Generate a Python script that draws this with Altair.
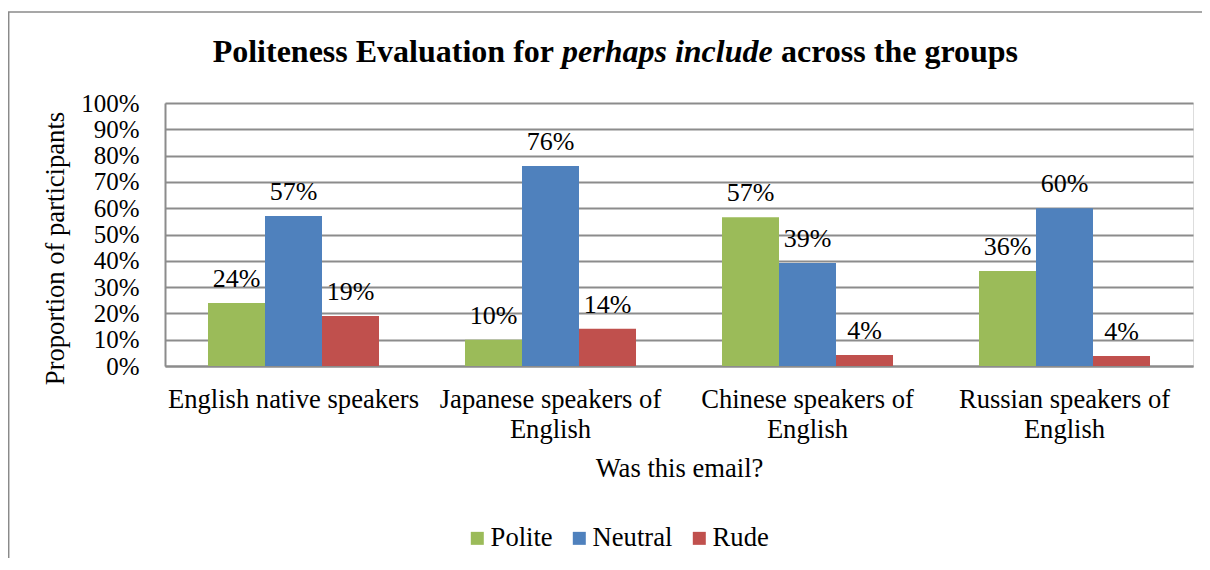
import altair as alt
import pandas as pd

groups = ["English native speakers", "Japanese speakers of English",
          "Chinese speakers of English", "Russian speakers of English"]
series = ["Polite", "Neutral", "Rude"]
polite = [0.24, 0.10, 0.566, 0.361]
neutral = [0.57, 0.76, 0.392, 0.60]
rude = [0.19, 0.142, 0.042, 0.038]
colors = ["#9BBB59", "#4F81BD", "#C0504D"]
y_ticks = [0, 0.1, 0.2, 0.3, 0.4, 0.5, 0.6, 0.7, 0.8, 0.9, 1.0]
title_parts = ["Politeness Evaluation for", "perhaps include", "across the groups"]

rows = []
for s, vals in zip(series, [polite, neutral, rude]):
    for g, v in zip(groups, vals):
        rows.append({"group": g, "series": s, "value": v})
df = pd.DataFrame(rows)

FONT = "Liberation Serif"
W, H = 1028, 263
GRAY = "#8c8c8c"

x_enc = alt.X("group:N", sort=groups,
              scale=alt.Scale(paddingInner=0.3346, paddingOuter=0.1673),
              axis=alt.Axis(title="Was this email?", labelAngle=0,
                            labelExpr="indexof(datum.value, ' of English') > 0 ? [replace(datum.value, ' English', ''), 'English'] : datum.value",
                            labelFontSize=26.6, labelLineHeight=30, labelPadding=20,
                            labelBaseline="top", ticks=False, tickSize=0, labelLimit=0,
                            labelFont=FONT, labelColor="black",
                            titleFont=FONT, titleFontSize=26.6, titleFontWeight="normal",
                            titleColor="black", titleY=110, titleBaseline="alphabetic",
                            domainColor=GRAY, domainWidth=2, grid=False))
xo_enc = alt.XOffset("series:N", sort=series,
                     scale=alt.Scale(paddingInner=0, paddingOuter=0))
y_enc = alt.Y("value:Q", scale=alt.Scale(domain=[0, 1]),
              axis=alt.Axis(title="Proportion of participants", values=y_ticks,
                            format=".0%", labelFontSize=25, labelFont=FONT,
                            labelColor="black", labelPadding=26, ticks=False,
                            tickSize=0, labelOverlap=False, labelFlush=False,
                            titleFont=FONT, titleFontSize=26.6, titleFontWeight="normal",
                            titleColor="black", titleX=-102, titleY=145,
                            titleAlign="center", titleBaseline="alphabetic",
                            domainColor=GRAY, domainWidth=2,
                            gridColor=GRAY, gridWidth=2))

base = alt.Chart(df)
bars = base.mark_bar().encode(
    x=x_enc, xOffset=xo_enc, y=y_enc,
    color=alt.Color("series:N", sort=series,
                    scale=alt.Scale(domain=series, range=colors),
                    legend=alt.Legend(title=None, orient="none", direction="horizontal",
                                      legendX=299, legendY=422, padding=0,
                                      symbolType="square", symbolSize=169,
                                      symbolStrokeWidth=0, labelFont=FONT,
                                      labelFontSize=26.6, labelColor="black",
                                      labelOffset=0, columnPadding=13))
)
labels = base.mark_text(dy=-16, baseline="alphabetic", fontSize=26, font=FONT,
                        color="black").encode(
    x=x_enc, xOffset=xo_enc, y=y_enc,
    text=alt.Text("value:Q", format=".0%")
)

dummy = alt.Chart(pd.DataFrame({"a": [0]}))
frame = dummy.mark_rect(fillOpacity=0, stroke="#8a8a8a", strokeWidth=1.5).encode(
    x=alt.value(-156.3), x2=alt.value(1100), y=alt.value(-91), y2=alt.value(520))
t1 = dummy.mark_text(text=title_parts[0], font=FONT, fontSize=32, fontWeight="bold",
                     align="right", baseline="alphabetic", color="black").encode(
    x=alt.value(389), y=alt.value(-41))
t2 = dummy.mark_text(text=title_parts[1], font=FONT, fontSize=32, fontWeight="bold",
                     fontStyle="italic", align="left", baseline="alphabetic",
                     color="black").encode(x=alt.value(397), y=alt.value(-41))
t3 = dummy.mark_text(text=title_parts[2], font=FONT, fontSize=32, fontWeight="bold",
                     align="left", baseline="alphabetic", color="black").encode(
    x=alt.value(616), y=alt.value(-41))

chart = alt.layer(bars, labels, frame, t1, t2, t3).properties(
    width=W, height=H,
    autosize=alt.AutoSizeParams(type="none"),
    padding={"left": 157, "top": 95, "right": 9, "bottom": 192},
    background="white"
).configure_view(stroke=None).configure(font=FONT)

chart.save("out.html", embed_options={"renderer": "svg", "actions": False})
